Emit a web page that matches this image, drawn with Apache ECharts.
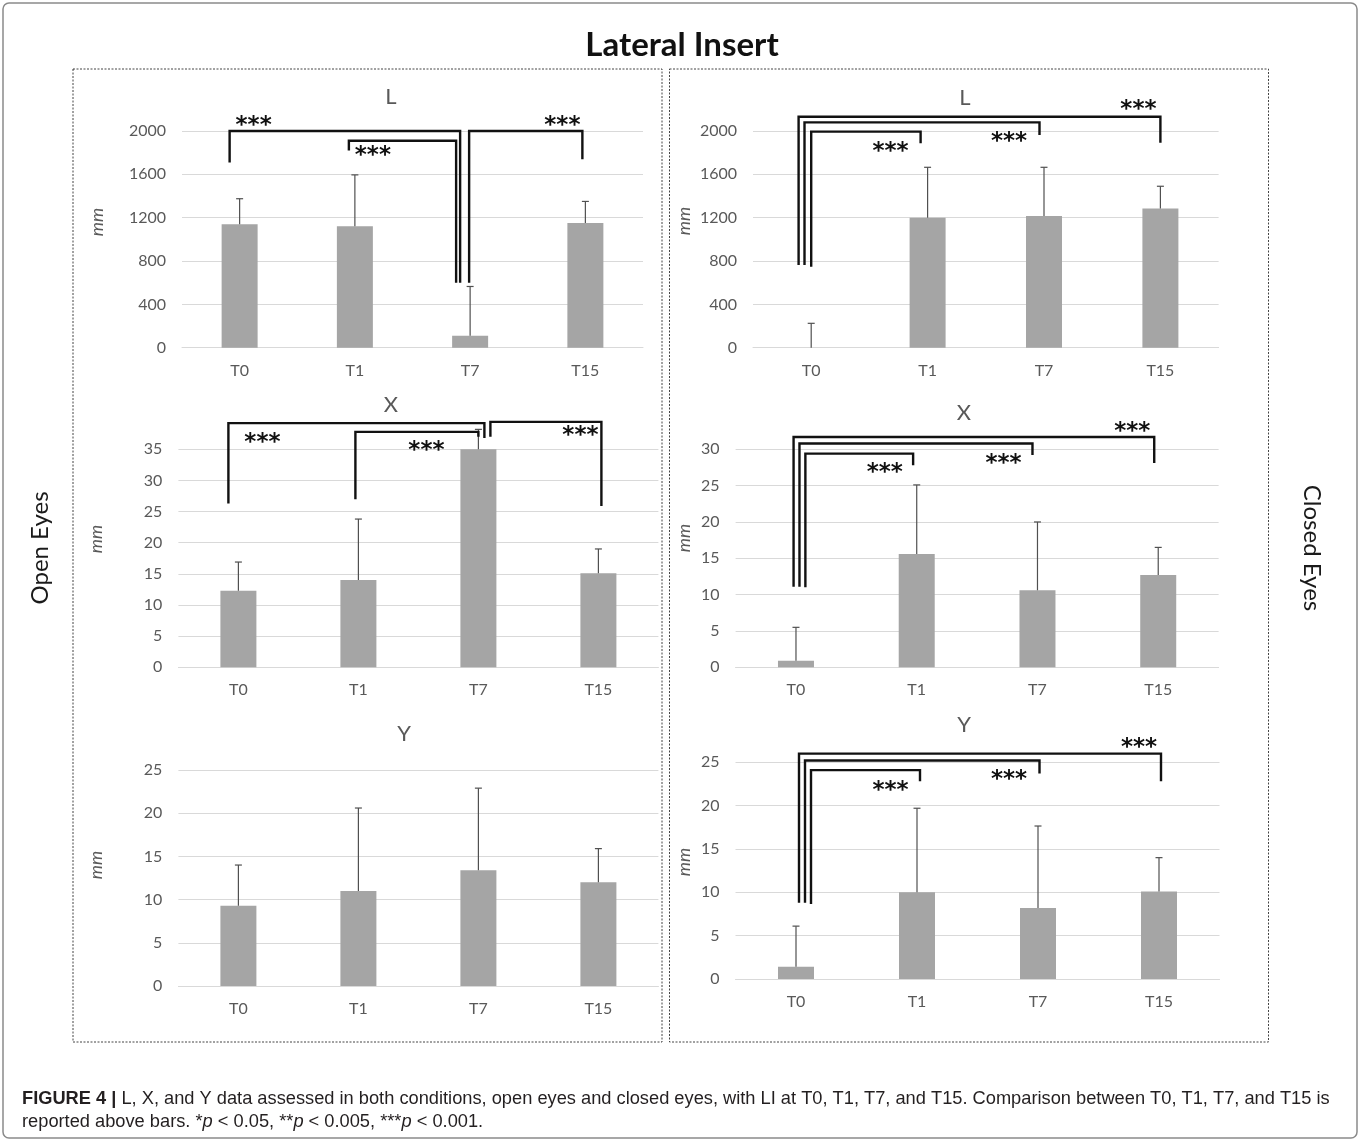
<!DOCTYPE html>
<html><head><meta charset="utf-8">
<script src="https://cdn.jsdelivr.net/npm/echarts@6/dist/echarts.min.js"></script>
<style>html,body{margin:0;padding:0;background:#fff}#c{width:1360px;height:1141px}</style>
</head><body><div id="c"></div>
<script>
// ---------- data ----------
const categories = ['T0', 'T1', 'T7', 'T15'];

// Open eyes (mean, SD)
const openL = [1140, 1120, 110, 1150];
const openLSd = [235, 475, 455, 200];
const openX = [12.3, 14.0, 35.0, 15.1];
const openXSd = [4.6, 9.8, 3.2, 3.9];
const openY = [9.3, 11.0, 13.4, 12.0];
const openYSd = [4.7, 9.6, 9.5, 3.9];

// Closed eyes (mean, SD)
const closedL = [0, 1200, 1215, 1285];
const closedLSd = [225, 465, 450, 205];
const closedX = [0.9, 15.6, 10.6, 12.7];
const closedXSd = [4.6, 9.5, 9.4, 3.8];
const closedY = [1.4, 10.0, 8.2, 10.1];
const closedYSd = [4.7, 9.7, 9.45, 3.9];

// axis ranges (tick labels run 0..max by step)
const axisMaxOpen = [2000, 35, 25];
const axisMaxClosed = [2000, 30, 25];
const axisStep = [400, 5, 5];

// significance brackets: [from, to, bracket level, foot at from, foot at to, label]
const openLSig = [['T0', 'T7', 2000, 1710, 600, '***'], ['T1', 'T7', 1910, 1820, 600, '***'], ['T7', 'T15', 2000, 600, 1740, '***']];
const openXSig = [['T0', 'T7', 39.2, 26.3, 36.8, '***'], ['T1', 'T7', 37.8, 27.0, 37.0, '***'], ['T7', 'T15', 39.4, 37.0, 25.9, '***']];
const closedLSig = [['T0', 'T15', 2132, 763, 1892, '***'], ['T0', 'T7', 2080, 763, 1963, '***'], ['T0', 'T1', 1994, 748, 1886, '***']];
const closedXSig = [['T0', 'T15', 31.7, 11.1, 28.1, '***'], ['T0', 'T7', 30.8, 11.1, 29.2, '***'], ['T0', 'T1', 29.4, 11.0, 27.8, '***']];
const closedYSig = [['T0', 'T15', 26.0, 8.8, 22.8, '***'], ['T0', 'T7', 25.2, 8.8, 23.7, '***'], ['T0', 'T1', 24.1, 8.65, 22.8, '***']];

// ---------- layout / style ----------
const sigLayout = {
  openL: [{dxA: -10, dxB: -10, sc: 'T0', sdx: 14, sy: 2100}, {dxA: -6, dxB: -14, sc: 'T1', sdx: 18, sy: 1823}, {dxA: -1, dxB: -3, sc: 'T15', sdx: -23, sy: 2100}],
  openX: [{dxA: -10, dxB: 6, sc: 'T0', sdx: 24, sy: 37.0}, {dxA: -3, dxB: 0, sc: 'T1', sdx: 68, sy: 35.7}, {dxA: 12, dxB: 3, sc: 'T15', sdx: -18, sy: 38.1}],
  closedL: [{dxA: -12.6, dxB: 0, sc: 'T15', sdx: -22, sy: 2249}, {dxA: -6.7, dxB: -4.5, sc: 'T7', sdx: -35, sy: 1954}, {dxA: 0, dxB: -7, sc: 'T1', sdx: -37, sy: 1862}],
  closedX: [{dxA: -2.4, dxB: -4, sc: 'T15', sdx: -26, sy: 33.2}, {dxA: 3.5, dxB: -5, sc: 'T7', sdx: -34, sy: 28.8}, {dxA: 9.4, dxB: -3.6, sc: 'T1', sdx: -32, sy: 27.5}],
  closedY: [{dxA: 3, dxB: 2, sc: 'T15', sdx: -20, sy: 27.3}, {dxA: 9, dxB: 1.5, sc: 'T7', sdx: -29, sy: 23.7}, {dxA: 15, dxB: 3, sc: 'T1', sdx: -26.5, sy: 22.4}]
};

const FONT = 'Lato, "Open Sans", sans-serif';
const STAR_FONT = 'bold 23px "DejaVu Sans", sans-serif';
const TXT = '#595959';
const grids = [
  {left: 182, top: 131, width: 461, height: 216.7},     // open L
  {left: 178.4, top: 449.3, width: 480, height: 218},   // open X
  {left: 178.4, top: 770, width: 480, height: 216},     // open Y
  {left: 753, top: 131, width: 465.6, height: 216.7},   // closed L
  {left: 735.6, top: 449.3, width: 483, height: 218},   // closed X
  {left: 735.5, top: 762.3, width: 484, height: 216.7}  // closed Y
];

const panels = [
  {vals: openL, sd: openLSd, max: axisMaxOpen[0], step: axisStep[0], sig: openLSig, lay: sigLayout.openL},
  {vals: openX, sd: openXSd, max: axisMaxOpen[1], step: axisStep[1], sig: openXSig, lay: sigLayout.openX},
  {vals: openY, sd: openYSd, max: axisMaxOpen[2], step: axisStep[2], sig: null, lay: null},
  {vals: closedL, sd: closedLSd, max: axisMaxClosed[0], step: axisStep[0], sig: closedLSig, lay: sigLayout.closedL},
  {vals: closedX, sd: closedXSd, max: axisMaxClosed[1], step: axisStep[1], sig: closedXSig, lay: sigLayout.closedX},
  {vals: closedY, sd: closedYSd, max: axisMaxClosed[2], step: axisStep[2], sig: closedYSig, lay: sigLayout.closedY}
];

function errRender(params, api) {
  const x = api.value(0), v = api.value(1), sd = api.value(2);
  const p0 = api.coord([x, v]);
  const p1 = api.coord([x, v + sd]);
  const st = {stroke: '#505050', lineWidth: 1.2};
  return {type: 'group', children: [
    {type: 'line', shape: {x1: p0[0], y1: p0[1], x2: p1[0], y2: p1[1]}, style: st},
    {type: 'line', shape: {x1: p1[0] - 3.5, y1: p1[1], x2: p1[0] + 3.5, y2: p1[1]}, style: st}
  ]};
}

function makeSigRender(sig, lay) {
  return function (params, api) {
    const i = params.dataIndex, s = sig[i], l = lay[i];
    const a = categories.indexOf(s[0]), b = categories.indexOf(s[1]);
    const pa = api.coord([a, s[3]]), paT = api.coord([a, s[2]]);
    const pb = api.coord([b, s[4]]), pbT = api.coord([b, s[2]]);
    const xa = pa[0] + l.dxA, xb = pb[0] + l.dxB;
    const sp = api.coord([categories.indexOf(l.sc), l.sy]);
    return {type: 'group', children: [
      {type: 'polyline', shape: {points: [[xa, pa[1]], [xa, paT[1]], [xb, pbT[1]], [xb, pb[1]]]},
        style: {stroke: '#111', lineWidth: 2.4, fill: null, lineJoin: 'miter'}},
      {type: 'text', x: sp[0] + l.sdx, y: sp[1] + 6,
        style: {text: s[5], fill: '#111', font: STAR_FONT, align: 'center', verticalAlign: 'middle'}}
    ]};
  };
}

const xAxes = [], yAxes = [], series = [];
panels.forEach((p, k) => {
  xAxes.push({type: 'category', gridIndex: k, data: categories,
    axisTick: {show: false}, axisLine: {lineStyle: {color: '#d9d9d9', width: 1}},
    axisLabel: {color: TXT, fontSize: 16, fontFamily: FONT, margin: 15}});
  yAxes.push({type: 'value', gridIndex: k, min: 0, max: p.max, interval: p.step,
    axisLine: {show: false}, axisTick: {show: false},
    splitLine: {lineStyle: {color: '#d9d9d9', width: 1}},
    axisLabel: {color: TXT, fontSize: 16, fontFamily: FONT, margin: 16, formatter: v => String(v)}});
  series.push({type: 'bar', xAxisIndex: k, yAxisIndex: k, data: p.vals, barWidth: 36,
    itemStyle: {color: '#a5a5a5'}, silent: true});
  series.push({type: 'custom', xAxisIndex: k, yAxisIndex: k, renderItem: errRender, clip: false,
    encode: {x: 0, y: 1}, data: p.vals.map((v, i) => [i, v, p.sd[i]]), z: 3, silent: true});
  if (p.sig) {
    series.push({type: 'custom', xAxisIndex: k, yAxisIndex: k, renderItem: makeSigRender(p.sig, p.lay), clip: false,
      encode: {x: 0, y: 1}, data: p.sig.map((s, i) => [categories.indexOf(s[0]), s[3], i]), z: 5, silent: true});
  }
});

// caption sizing
const CAP_FONT = '"Liberation Sans", Arial, Helvetica, sans-serif';
const cap1Bold = 'FIGURE 4 |';
const cap1Rest = ' L, X, and Y data assessed in both conditions, open eyes and closed eyes, with LI at T0, T1, T7, and T15. Comparison between T0, T1, T7, and T15 is';
const mctx = document.createElement('canvas').getContext('2d');
mctx.font = 'bold 16px ' + CAP_FONT; const w1 = mctx.measureText(cap1Bold).width;
mctx.font = '16px ' + CAP_FONT; const w2 = mctx.measureText(cap1Rest).width;
const capSize = 16 * 1308 / (w1 + w2);
const capRich = {
  b: {fontWeight: 'bold', fontSize: capSize, fontFamily: CAP_FONT, fill: '#231f20'},
  n: {fontSize: capSize, fontFamily: CAP_FONT, fill: '#231f20'},
  i: {fontStyle: 'italic', fontSize: capSize, fontFamily: CAP_FONT, fill: '#231f20'}
};

function panelTitle(t, x, y) {
  return {type: 'text', x: x, y: y, style: {text: t, fill: TXT, font: '22px ' + FONT, align: 'center', verticalAlign: 'middle'}};
}
function mmLabel(x, y) {
  return {type: 'text', x: x, y: y, rotation: Math.PI / 2,
    style: {text: 'mm', fill: TXT, font: 'italic 18px ' + FONT, align: 'center', verticalAlign: 'middle'}};
}

const graphic = [
  {type: 'rect', shape: {x: 3, y: 3, width: 1354, height: 1135, r: 6}, style: {fill: null, stroke: '#8a8a8a', lineWidth: 1.5}, z: -10},
  {type: 'rect', shape: {x: 73, y: 69, width: 589, height: 973}, style: {fill: null, stroke: '#444', lineWidth: 1, lineDash: [2, 1.5]}, z: -5},
  {type: 'rect', shape: {x: 669.5, y: 69, width: 599, height: 973}, style: {fill: null, stroke: '#444', lineWidth: 1, lineDash: [2, 1.5]}, z: -5},
  {type: 'text', x: 682, y: 45, style: {text: 'Lateral Insert', fill: '#111', font: 'bold 33px ' + FONT, align: 'center', verticalAlign: 'middle'}},
  {type: 'text', x: 40, y: 548, rotation: Math.PI / 2, style: {text: 'Open Eyes', fill: '#1a1a1a', font: '24px ' + FONT, align: 'center', verticalAlign: 'middle'}},
  {type: 'text', x: 1312, y: 548, rotation: -Math.PI / 2, style: {text: 'Closed Eyes', fill: '#1a1a1a', font: '24px ' + FONT, align: 'center', verticalAlign: 'middle'}},
  panelTitle('L', 391, 97), panelTitle('X', 391, 405), panelTitle('Y', 404, 734),
  panelTitle('L', 965, 98), panelTitle('X', 964, 413), panelTitle('Y', 964, 725),
  mmLabel(97, 222), mmLabel(96, 539), mmLabel(96, 865),
  mmLabel(684, 221), mmLabel(684, 538), mmLabel(684, 862),
  {type: 'text', x: 22, y: 1099, style: {text: '{b|' + cap1Bold + '}{n|' + cap1Rest + '}', rich: capRich, verticalAlign: 'middle', align: 'left'}},
  {type: 'text', x: 22, y: 1122, style: {text: '{n|reported above bars. *}{i|p}{n| < 0.05, **}{i|p}{n| < 0.005, ***}{i|p}{n| < 0.001.}', rich: capRich, verticalAlign: 'middle', align: 'left'}}
];

const chart = echarts.init(document.getElementById('c'), null, {renderer: 'canvas'});
chart.setOption({
  animation: false,
  backgroundColor: '#fff',
  grid: grids.map(g => Object.assign({containLabel: false, outerBoundsMode: 'none'}, g)),
  xAxis: xAxes,
  yAxis: yAxes,
  series: series,
  graphic: graphic
});
</script>
</body></html>
